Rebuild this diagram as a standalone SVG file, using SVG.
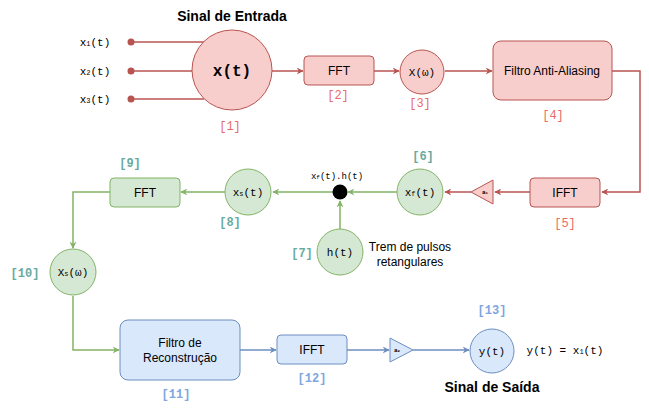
<svg xmlns="http://www.w3.org/2000/svg" width="649" height="410" viewBox="0 0 649 410">
<style>
.r{fill:#f8cecc;stroke:#b85450;stroke-width:1}
.g{fill:#d5e8d4;stroke:#82b366;stroke-width:1}
.b{fill:#dae8fc;stroke:#6c8ebf;stroke-width:1}
.lr{fill:none;stroke:#b85450;stroke-width:1.5}
.lg{fill:none;stroke:#82b366;stroke-width:1.5}
.lb{fill:none;stroke:#6c8ebf;stroke-width:1.5}
.m{font-family:"Liberation Mono","Courier New",monospace;font-size:11px;fill:#000;text-anchor:middle}
.s{font-family:"Liberation Sans",Arial,sans-serif;font-size:12px;fill:#000;text-anchor:middle}
.t{font-family:"Liberation Sans",Arial,sans-serif;font-size:14px;font-weight:bold;fill:#000;text-anchor:middle}
.nr{font-family:"Liberation Mono","Courier New",monospace;font-size:12px;fill:#ea6b66;text-anchor:middle}
.ng{font-family:"Liberation Mono","Courier New",monospace;font-size:12px;font-weight:bold;fill:#67ab9f;text-anchor:middle}
.nb{font-family:"Liberation Mono","Courier New",monospace;font-size:12px;font-weight:bold;fill:#7ea6e0;text-anchor:middle}
.sub{font-size:7px}
</style>
<defs>
<marker id="ar" viewBox="0 0 10 10" refX="9" refY="5" markerWidth="7" markerHeight="7" orient="auto" markerUnits="userSpaceOnUse"><path d="M0,0 L10,5 L0,10 L3,5 Z" fill="#b85450"/></marker>
<marker id="ag" viewBox="0 0 10 10" refX="9" refY="5" markerWidth="7" markerHeight="7" orient="auto" markerUnits="userSpaceOnUse"><path d="M0,0 L10,5 L0,10 L3,5 Z" fill="#82b366"/></marker>
<marker id="ab" viewBox="0 0 10 10" refX="9" refY="5" markerWidth="7" markerHeight="7" orient="auto" markerUnits="userSpaceOnUse"><path d="M0,0 L10,5 L0,10 L3,5 Z" fill="#6c8ebf"/></marker>
</defs>

<g id="connectors">
<path class="lr" d="M131,42 H204"/>
<path class="lr" d="M131,71 H192"/>
<path class="lr" d="M131,99 H204"/>
<circle cx="131" cy="42" r="3.5" fill="#b85450"/>
<circle cx="131" cy="71" r="3.5" fill="#b85450"/>
<circle cx="131" cy="99" r="3.5" fill="#b85450"/>
<path class="lr" d="M272,71 H303" marker-end="url(#ar)"/>
<path class="lr" d="M374,71 H399" marker-end="url(#ar)"/>
<path class="lr" d="M445,71 H492" marker-end="url(#ar)"/>
<path class="lr" d="M612,71 H640 V192 H602" marker-end="url(#ar)"/>
<path class="lr" d="M530,192 H495" marker-end="url(#ar)"/>
<path class="lr" d="M471,192 H445" marker-end="url(#ar)"/>
<path class="lg" d="M397,192 H348" marker-end="url(#ag)"/>
<path class="lg" d="M340,229 V201" marker-end="url(#ag)"/>
<path class="lg" d="M333,192 H273" marker-end="url(#ag)"/>
<path class="lg" d="M225,192 H181" marker-end="url(#ag)"/>
<path class="lg" d="M110,192 H73 V248" marker-end="url(#ag)"/>
<path class="lg" d="M73,296 V350 H119" marker-end="url(#ag)"/>
<path class="lb" d="M240,350 H276" marker-end="url(#ab)"/>
<path class="lb" d="M347,350 H389" marker-end="url(#ab)"/>
<path class="lb" d="M413,350 H469" marker-end="url(#ab)"/>
</g>

<g id="inputs">
<text class="m" x="95" y="46">x<tspan class="sub">1</tspan>(t)</text>
<text class="m" x="95" y="75">x<tspan class="sub">2</tspan>(t)</text>
<text class="m" x="95" y="103">x<tspan class="sub">3</tspan>(t)</text>
</g>

<g id="n1">
<text class="t" x="232" y="21">Sinal de Entrada</text>
<circle class="r" cx="232" cy="70" r="40"/>
<text class="m" x="232" y="76" style="font-size:16px;font-weight:bold">x(t)</text>
<text class="nr" x="230" y="130">[1]</text>
</g>

<g id="n2">
<rect class="r" x="304" y="56" width="70" height="29" rx="4"/>
<text class="s" x="339" y="75">FFT</text>
<text class="nr" x="338" y="99">[2]</text>
</g>

<g id="n3">
<circle class="r" cx="422" cy="72" r="22"/>
<text class="m" x="422" y="76">X(ω)</text>
<text class="nr" x="420" y="107">[3]</text>
</g>

<g id="n4">
<rect class="r" x="493" y="41" width="119" height="59" rx="8"/>
<text class="s" x="552" y="75">Filtro Anti-Aliasing</text>
<text class="nr" x="553" y="119">[4]</text>
</g>

<g id="n5">
<rect class="r" x="530" y="178" width="70" height="29" rx="4"/>
<text class="s" x="565" y="197">IFFT</text>
<text class="nr" x="565" y="227">[5]</text>
</g>

<g id="a1">
<polygon class="r" points="471,192 493,180 493,204"/>
<text class="m" x="485" y="194" style="font-size:6px;font-weight:bold">a<tspan style="font-size:4px">1</tspan></text>
</g>

<g id="n6">
<circle class="g" cx="420" cy="192" r="23"/>
<text class="m" x="420" y="196">x<tspan class="sub">f</tspan>(t)</text>
<text class="ng" x="423" y="160">[6]</text>
</g>

<g id="mult">
<circle cx="340" cy="192" r="7.5" fill="#000"/>
<text class="m" x="337" y="179" style="font-size:9px">x<tspan style="font-size:6px">f</tspan>(t).h(t)</text>
</g>

<g id="n7">
<circle class="g" cx="340" cy="252" r="23"/>
<text class="m" x="340" y="256">h(t)</text>
<text class="ng" x="302" y="257">[7]</text>
<text class="s" x="410" y="251">Trem de pulsos</text>
<text class="s" x="410" y="266">retangulares</text>
</g>

<g id="n8">
<circle class="g" cx="248" cy="192" r="23"/>
<text class="m" x="248" y="196">x<tspan class="sub">s</tspan>(t)</text>
<text class="ng" x="230" y="226">[8]</text>
</g>

<g id="n9">
<rect class="g" x="110" y="178" width="70" height="29" rx="4"/>
<text class="s" x="145" y="197">FFT</text>
<text class="ng" x="130" y="167">[9]</text>
</g>

<g id="n10">
<circle class="g" cx="73" cy="272" r="23"/>
<text class="m" x="73" y="276">X<tspan class="sub">s</tspan>(ω)</text>
<text class="ng" x="25" y="277">[10]</text>
</g>

<g id="n11">
<rect class="b" x="120" y="320" width="120" height="60" rx="8"/>
<text class="s" x="180" y="347">Filtro de</text>
<text class="s" x="180" y="362">Reconstrução</text>
<text class="nb" x="176" y="398">[11]</text>
</g>

<g id="n12">
<rect class="b" x="277" y="335" width="70" height="29" rx="4"/>
<text class="s" x="312" y="354">IFFT</text>
<text class="nb" x="312" y="382">[12]</text>
</g>

<g id="a2">
<polygon class="b" points="390,338 413,350 390,362"/>
<text class="m" x="397" y="352" style="font-size:6px;font-weight:bold">a<tspan style="font-size:4px">2</tspan></text>
</g>

<g id="n13">
<circle class="b" cx="492" cy="351" r="22"/>
<text class="m" x="492" y="355">y(t)</text>
<text class="nb" x="492" y="314">[13]</text>
<text class="m" x="565" y="354">y(t) = x<tspan class="sub">1</tspan>(t)</text>
<text class="t" x="492" y="392">Sinal de Saída</text>
</g>
</svg>
